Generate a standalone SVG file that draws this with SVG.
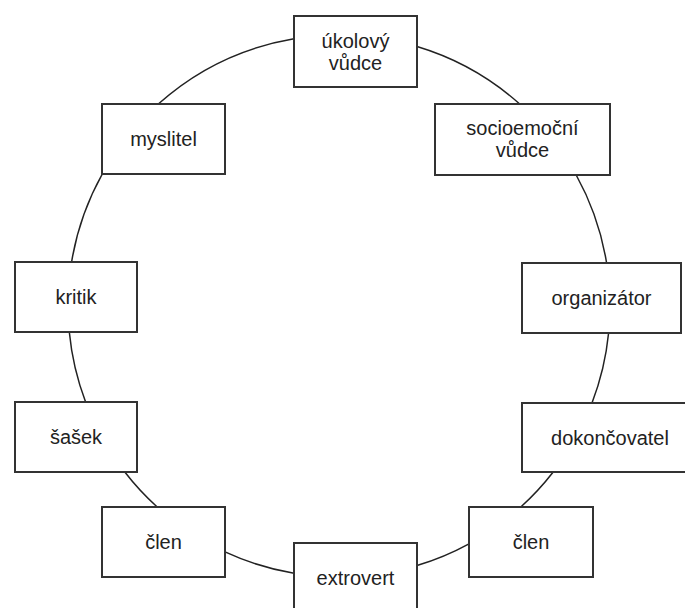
<svg xmlns="http://www.w3.org/2000/svg" width="685" height="608" viewBox="0 0 685 608">
<style>
  .bg { fill: #ffffff; }
  .edge { fill: none; stroke: #222222; stroke-width: 1.5; }
  .box { fill: #ffffff; stroke: #333333; stroke-width: 2; }
  .lbl { font-family: "Liberation Sans", Arial, Helvetica, sans-serif; font-size: 20px; fill: #222222; text-anchor: middle; }
</style>
<rect class="bg" x="0" y="0" width="685" height="608"/>
<g id="connectors">
  <path class="edge" d="M417,46.5 A271,271 0 0 1 519.7,104"/>
  <path class="edge" d="M576.2,175 A271,271 0 0 1 606.6,263"/>
  <path class="edge" d="M608.6,333 A271,271 0 0 1 592,403"/>
  <path class="edge" d="M553.2,472 A271,271 0 0 1 520.8,507"/>
  <path class="edge" d="M469,543.8 A271,271 0 0 1 417,565.5"/>
  <path class="edge" d="M294,573.2 A271,271 0 0 1 225,551.9"/>
  <path class="edge" d="M157.2,507 A271,271 0 0 1 124.8,472"/>
  <path class="edge" d="M85.6,402 A271,271 0 0 1 69.3,332"/>
  <path class="edge" d="M71.6,262 A271,271 0 0 1 102.3,174"/>
  <path class="edge" d="M158.3,104 A271,271 0 0 1 294,38.8"/>
</g>
<g id="node-ukolovy-vudce">
  <rect class="box" x="294" y="16" width="123" height="71"/>
  <text class="lbl" x="355.5" y="47.5">úkolový</text>
  <text class="lbl" x="355.5" y="69.5">vůdce</text>
</g>
<g id="node-socioemocni-vudce">
  <rect class="box" x="435" y="104" width="175" height="71"/>
  <text class="lbl" x="522.5" y="135">socioemoční</text>
  <text class="lbl" x="522.5" y="157">vůdce</text>
</g>
<g id="node-organizator">
  <rect class="box" x="522" y="263" width="159" height="70"/>
  <text class="lbl" x="601.5" y="305">organizátor</text>
</g>
<g id="node-dokoncovatel">
  <rect class="box" x="522" y="403" width="176" height="69"/>
  <text class="lbl" x="610" y="444.5">dokončovatel</text>
</g>
<g id="node-clen-right">
  <rect class="box" x="469" y="507" width="124" height="70"/>
  <text class="lbl" x="531" y="549">člen</text>
</g>
<g id="node-extrovert">
  <rect class="box" x="294" y="543" width="123" height="70"/>
  <text class="lbl" x="355.5" y="585">extrovert</text>
</g>
<g id="node-clen-left">
  <rect class="box" x="102" y="507" width="123" height="70"/>
  <text class="lbl" x="163.5" y="549">člen</text>
</g>
<g id="node-sasek">
  <rect class="box" x="15" y="402" width="122" height="70"/>
  <text class="lbl" x="76" y="444">šašek</text>
</g>
<g id="node-kritik">
  <rect class="box" x="15" y="262" width="122" height="70"/>
  <text class="lbl" x="76" y="304">kritik</text>
</g>
<g id="node-myslitel">
  <rect class="box" x="102" y="104" width="123" height="70"/>
  <text class="lbl" x="163.5" y="146">myslitel</text>
</g>
</svg>
